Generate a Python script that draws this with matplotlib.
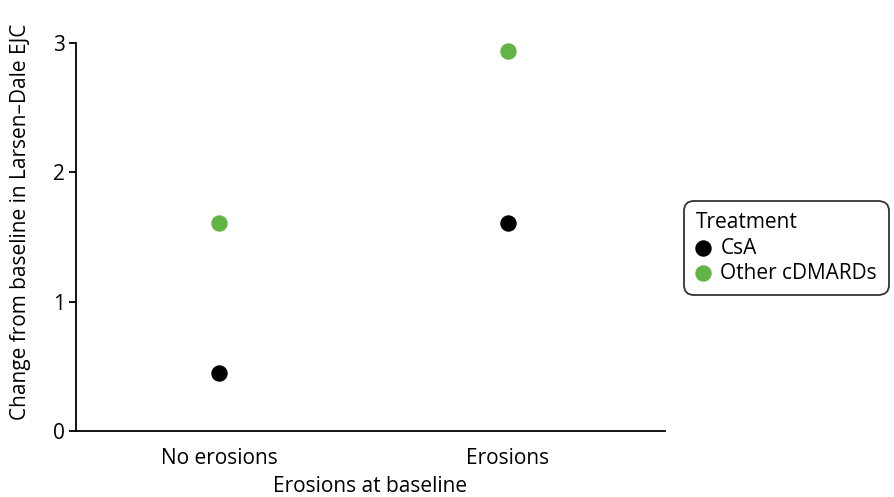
import matplotlib
matplotlib.use("Agg")
import matplotlib.pyplot as plt

categories = ["No erosions", "Erosions"]
series_names = ["CsA", "Other cDMARDs"]
csa_values = [0.45, 1.61]
other_values = [1.61, 2.94]
colors = ["#000000", "#63b446"]
y_ticks = [0, 1, 2, 3]

plt.rcParams['font.family'] = ['Open Sans', 'DejaVu Sans']
FS = 15

fig = plt.figure(figsize=(8.95, 4.97), dpi=100)
ax = fig.add_axes([0.0849, 0.1328, 0.658, 0.7807])

xpos = list(range(1, len(categories) + 1))
for vals, name, c in zip([csa_values, other_values], series_names, colors):
    ax.scatter(xpos, vals, s=140, color=c, label=name, zorder=3, linewidths=0, clip_on=False)

ax.set_xlim(0.505, 2.543)
ax.set_ylim(0, 3)
ax.set_xticks(xpos)
ax.set_xticklabels(categories, fontsize=FS)
ax.set_yticks(y_ticks)
ax.set_yticklabels([str(t) for t in y_ticks], fontsize=FS)
for s in ["top", "right"]:
    ax.spines[s].set_visible(False)
for s in ["left", "bottom"]:
    ax.spines[s].set_linewidth(1.3)
    ax.spines[s].set_color("black")
ax.tick_params(axis="both", length=5, width=1.3, color="black", labelcolor="black", pad=3)
ax.tick_params(axis="x", length=0, pad=12)
ax.set_xlabel("Erosions at baseline", fontsize=FS, labelpad=5)
ax.set_ylabel("Change from baseline in Larsen\u2013Dale EJC", fontsize=FS)
ax.yaxis.set_label_coords(-0.077, 0.54)

leg = ax.legend(title="Treatment", loc="upper left", bbox_to_anchor=(684 / 895, 1 - 201 / 497),
                bbox_transform=fig.transFigure, fontsize=FS, title_fontsize=FS,
                frameon=True, handletextpad=0.45, handlelength=0.75, borderpad=0.55,
                labelspacing=0.2, alignment="left", fancybox=True, borderaxespad=0)
leg.get_frame().set_edgecolor("black")
leg.get_frame().set_linewidth(1.3)
leg.get_frame().set_boxstyle("round,pad=0.0,rounding_size=0.5")

fig.savefig("out.png", dpi=100)
